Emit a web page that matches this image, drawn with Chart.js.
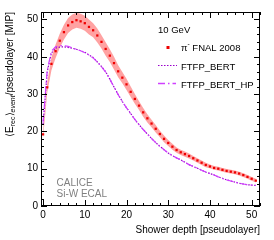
<!DOCTYPE html>
<html><head><meta charset="utf-8">
<script src="https://cdn.jsdelivr.net/npm/chart.js@4/dist/chart.umd.min.js"></script>
<style>html,body{margin:0;padding:0;background:#fff;overflow:hidden}</style>
</head><body>
<canvas id="c" width="274" height="240" style="width:274px;height:240px;display:block"></canvas>
<script>
// ---- data ----
const layers = [0,1,2,3,4,5,6,7,8,9,10,11,12,13,14,15,16,17,18,19,20,21,22,23,24,25,26,27,28,29,30,31,32,33,34,35,36,37,38,39,40,41,42,43,44,45,46,47,48,49,50,51];
const pionFNAL2008 = [19.2,31.8,38.1,41.5,44.3,46.6,48.4,49.3,49.8,49.5,49.0,48.0,47.1,45.7,44.0,42.1,40.3,38.3,36.1,34.4,32.6,30.6,28.7,26.9,25.1,23.5,22.1,20.7,19.3,18.0,16.9,15.9,15.0,14.4,13.9,13.4,12.8,12.2,11.6,11.0,10.6,10.2,10.0,9.7,9.4,9.2,9.0,8.7,8.3,7.8,7.3,6.8];
const pionErr = [0.9,1.4,1.7,1.8,1.9,2.0,2.0,2.0,2.0,2.0,2.0,2.0,1.9,1.9,1.8,1.8,1.7,1.7,1.6,1.5,1.5,1.4,1.3,1.2,1.2,1.1,1.0,1.0,0.9,0.9,0.8,0.8,0.7,0.7,0.7,0.7,0.6,0.6,0.6,0.6,0.5,0.5,0.5,0.5,0.5,0.5,0.5,0.5,0.5,0.5,0.5,0.5];
const ftfpBert = [22.0,36.0,41.0,42.3,42.6,42.7,42.5,42.3,42.0,41.6,41.2,40.5,39.8,38.6,37.4,36.0,34.0,31.9,29.9,28.0,26.3,24.8,23.2,21.8,20.5,19.3,18.1,17.0,16.0,15.1,14.2,13.5,12.9,12.4,11.7,11.1,10.6,10.1,9.6,9.1,8.7,8.3,7.8,7.4,7.0,6.7,6.4,6.1,5.9,5.7,5.6,5.5];
const ftfpBertHP = [22.5,36.5,41.5,42.7,43.0,43.0,42.8,42.4,42.0,41.6,41.1,40.5,39.7,38.6,37.3,35.9,34.0,31.9,29.8,28.0,26.3,24.7,23.2,21.8,20.5,19.3,18.1,17.0,16.0,15.1,14.2,13.5,12.9,12.3,11.7,11.1,10.6,10.1,9.6,9.1,8.7,8.3,7.8,7.4,7.0,6.7,6.4,6.1,5.9,5.7,5.6,5.5];
const xTickValues = [0,10,20,30,40,50];
const yTickValues = [0,10,20,30,40,50];
const legendLabels = ['\u03C0', ' FNAL 2008', 'FTFP_BERT', 'FTFP_BERT_HP'];
const energyLabel = '10 GeV';
const caliceLabels = ['CALICE', 'Si-W ECAL'];

const FONT = '"Liberation Sans", Arial, Helvetica, sans-serif';
const pts = (ys) => layers.map((x, i) => ({x: x, y: ys[i]}));
const upper = layers.map((x, i) => ({x: x, y: pionFNAL2008[i] + pionErr[i]}));
const lower = layers.map((x, i) => ({x: x, y: pionFNAL2008[i] - pionErr[i]}));

const RED = '#ee0000';
const BERT = '#9a00cc';
const BERTHP = '#d040ff';

const decor = {
  id: 'decor',
  afterDraw(chart) {
    const ctx = chart.ctx, a = chart.chartArea;
    const xs = chart.scales.x, ys = chart.scales.y;
    ctx.save();
    // frame
    ctx.strokeStyle = '#000'; ctx.lineWidth = 1;
    ctx.strokeRect(Math.round(a.left) + 0.5, Math.round(a.top) + 0.5, Math.round(a.right - a.left) - 1, Math.round(a.bottom - a.top) - 1);
    // ticks (inside, all four sides)
    ctx.beginPath();
    for (let v = 0; v <= 52; v += 2) {
      const px = Math.round(xs.getPixelForValue(v)) + 0.5;
      const L = (v % 10 === 0) ? 6 : 3;
      ctx.moveTo(px, a.bottom); ctx.lineTo(px, a.bottom - L);
      ctx.moveTo(px, a.top); ctx.lineTo(px, a.top + L);
    }
    for (let v = 0; v <= 52; v += 2) {
      const py = Math.round(ys.getPixelForValue(v)) + 0.5;
      const L = (v % 10 === 0) ? 6 : 3;
      ctx.moveTo(a.left, py); ctx.lineTo(a.left + L, py);
      ctx.moveTo(a.right, py); ctx.lineTo(a.right - L, py);
    }
    ctx.stroke();

    // x title
    ctx.fillStyle = '#000';
    ctx.font = '10px ' + FONT;
    ctx.textAlign = 'right'; ctx.textBaseline = 'alphabetic';
    ctx.fillText('Shower depth [pseudolayer]', a.right, 233);

    // y title (rotated, with subscripts)
    const segs = [
      {t: '\u27E8E', f: '10px ' + FONT, dy: 0},
      {t: 'rec', f: '7px ' + FONT, dy: 2.5},
      {t: '\u27E9', f: '10px ' + FONT, dy: 0},
      {t: 'event', f: 'italic 7px ' + FONT, dy: 2.5},
      {t: '/pseudolayer [MIP]', f: '10px ' + FONT, dy: 0}
    ];
    let total = 0;
    segs.forEach(s => { ctx.font = s.f; s.w = ctx.measureText(s.t).width; total += s.w; });
    ctx.translate(12.5, 12 + total);
    ctx.rotate(-Math.PI / 2);
    ctx.textAlign = 'left';
    let cx = 0;
    segs.forEach(s => { ctx.font = s.f; ctx.fillText(s.t, cx, s.dy); cx += s.w; });
    ctx.setTransform(1, 0, 0, 1, 0, 0);

    // legend
    ctx.font = '9.5px ' + FONT;
    ctx.textAlign = 'left';
    ctx.fillStyle = '#000';
    ctx.fillText(energyLabel, 158, 32.5);
    // pion marker
    ctx.fillStyle = RED;
    ctx.fillRect(166.5, 46, 3, 3);
    ctx.fillStyle = '#000';
    ctx.fillText(legendLabels[0], 181, 51);
    const pw = ctx.measureText(legendLabels[0]).width;
    ctx.font = '6.5px ' + FONT;
    ctx.fillText('-', 181 + pw, 46);
    const mw = ctx.measureText('-').width;
    ctx.font = '9.5px ' + FONT;
    ctx.fillText(legendLabels[1], 181 + pw + mw, 51);
    // FTFP_BERT
    ctx.strokeStyle = BERT; ctx.lineWidth = 1.2; ctx.setLineDash([1.5, 1.5]);
    ctx.beginPath(); ctx.moveTo(158, 65.5); ctx.lineTo(177, 65.5); ctx.stroke();
    ctx.fillText(legendLabels[2], 181, 69.5);
    // FTFP_BERT_HP
    ctx.strokeStyle = BERTHP; ctx.lineWidth = 1.4; ctx.setLineDash([7, 3, 1.5, 3]);
    ctx.beginPath(); ctx.moveTo(158, 83.5); ctx.lineTo(176, 83.5); ctx.stroke();
    ctx.setLineDash([]);
    ctx.fillText(legendLabels[3], 181, 87.5);

    // CALICE label
    ctx.fillStyle = '#808080';
    ctx.font = '10px ' + FONT;
    ctx.fillText(caliceLabels[0], 56.5, 185.5);
    ctx.fillText(caliceLabels[1], 56.5, 196.5);
    ctx.restore();
  }
};

new Chart(document.getElementById('c'), {
  type: 'scatter',
  data: {
    datasets: [
      {label: 'band+', data: upper, showLine: true, fill: '+1', backgroundColor: 'rgba(255,70,70,0.5)', borderWidth: 0, pointRadius: 0, borderColor: 'rgba(0,0,0,0)', order: 5},
      {label: 'band-', data: lower, showLine: true, fill: false, borderWidth: 0, pointRadius: 0, borderColor: 'rgba(0,0,0,0)', order: 5},
      {label: 'FTFP_BERT', data: pts(ftfpBert), showLine: true, fill: false, borderColor: BERT, borderWidth: 1.2, borderDash: [1.5, 1.5], pointRadius: 0, order: 3},
      {label: 'FTFP_BERT_HP', data: pts(ftfpBertHP), showLine: true, fill: false, borderColor: BERTHP, borderWidth: 1.2, borderDash: [7, 3, 1.5, 3], pointRadius: 0, order: 2},
      {label: 'pi- FNAL 2008', data: pts(pionFNAL2008), showLine: false, pointStyle: 'rect', pointRadius: 1.6, pointBackgroundColor: RED, pointBorderWidth: 0, order: 1}
    ]
  },
  options: {
    responsive: false,
    devicePixelRatio: 1,
    animation: false,
    events: [],
    layout: {padding: {left: 0, top: 12, right: 14, bottom: 0}},
    plugins: {legend: {display: false}, tooltip: {enabled: false}},
    scales: {
      x: {
        type: 'linear', min: -0.5, max: 52,
        grid: {display: false, drawTicks: false},
        border: {display: false},
        ticks: {color: '#000', font: {family: FONT, size: 10}, padding: 3, maxRotation: 0, autoSkip: false},
        afterBuildTicks: s => { s.ticks = xTickValues.map(v => ({value: v})); },
        afterFit: s => { s.height = 34; }
      },
      y: {
        type: 'linear', min: 0, max: 52,
        grid: {display: false, drawTicks: false},
        border: {display: false},
        ticks: {color: '#000', font: {family: FONT, size: 10}, padding: 3, autoSkip: false},
        afterBuildTicks: s => { s.ticks = yTickValues.map(v => ({value: v})); },
        afterFit: s => { s.width = 41; }
      }
    }
  },
  plugins: [decor]
});
</script>
</body></html>
